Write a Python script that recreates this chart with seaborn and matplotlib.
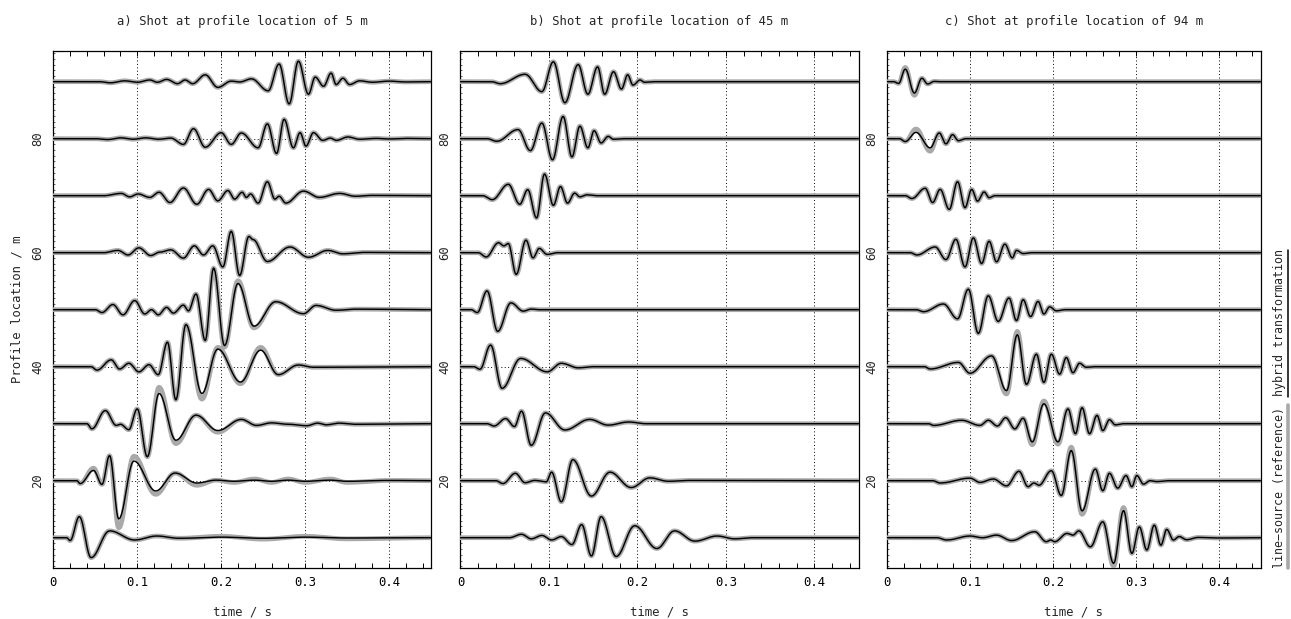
import numpy as np
import matplotlib
matplotlib.use("Agg")
import matplotlib.pyplot as plt
import seaborn as sns
from matplotlib.ticker import MultipleLocator, FixedLocator, FixedFormatter
from matplotlib.lines import Line2D

# ---------------- data ----------------
# each trace: list of (time [s], amplitude [m-units]) extrema of the hybrid-transformation trace
TRACE_OFFSETS = [10, 20, 30, 40, 50, 60, 70, 80, 90]
TITLES = ["a) Shot at profile location of 5 m",
          "b) Shot at profile location of 45 m",
          "c) Shot at profile location of 94 m"]
XTICKS = [0, 0.1, 0.2, 0.3, 0.4]
XTICKLABELS = ["0", "0.1", "0.2", "0.3", "0.4"]
YTICKS = [20, 40, 60, 80]
YTICKLABELS = ["20", "40", "60", "80"]

# ---- panel a ----
a90 = [(0, 0), (0.055, 0), (0.068, -0.2), (0.085, 0.15), (0.1, -0.1), (0.115, 0.3), (0.124, -0.1),
       (0.135, 0.4), (0.148, -0.35), (0.157, 0.3), (0.166, -0.35), (0.181, 1.2), (0.196, -1.0),
       (0.212, 0.1), (0.222, -0.05), (0.236, 0.5), (0.256, -1.6), (0.269, 3.1), (0.281, -3.9),
       (0.292, 3.6), (0.304, -2.2), (0.312, 0.8), (0.322, -0.8), (0.331, 1.5), (0.337, -0.5),
       (0.345, 0.6), (0.353, -0.5), (0.365, 0.15), (0.38, -0.1), (0.40, 0.1), (0.42, -0.05), (0.45, 0)]
a80 = [(0, 0), (0.05, 0), (0.065, -0.15), (0.08, 0.15), (0.095, -0.1), (0.11, 0.15), (0.125, -0.1),
       (0.14, 0.1), (0.155, -1.0), (0.167, 1.75), (0.181, -1.5), (0.200, 1.05), (0.212, -1.0),
       (0.224, 1.0), (0.244, -1.6), (0.255, 2.6), (0.266, -2.6), (0.275, 3.4), (0.286, -1.6),
       (0.294, 1.05), (0.301, -1.3), (0.310, 1.05), (0.321, -0.3), (0.33, 0.1), (0.337, -0.3),
       (0.351, 0.3), (0.365, -0.1), (0.385, 0.05), (0.40, -0.05), (0.42, 0.05), (0.45, 0)]
a70 = [(0, 0), (0.06, 0), (0.081, 0.4), (0.091, -0.2), (0.101, 0.3), (0.115, -0.3), (0.126, 0.6),
       (0.139, -1.2), (0.155, 1.35), (0.171, -1.5), (0.185, 1.1), (0.196, -0.9), (0.208, 0.9),
       (0.216, -0.6), (0.225, 0.6), (0.230, -0.3), (0.235, 0.3), (0.244, -1.3), (0.255, 2.45),
       (0.264, -0.6), (0.269, -0.1), (0.277, -1.3), (0.298, 0.8), (0.317, -0.3), (0.341, 0.4),
       (0.36, -0.1), (0.38, 0.05), (0.45, 0)]
a60 = [(0, 0), (0.06, 0), (0.077, 0.4), (0.089, -0.4), (0.102, 0.85), (0.116, -0.5), (0.127, 0.1),
       (0.140, 0.5), (0.155, -0.95), (0.168, 1.2), (0.179, -0.4), (0.190, 1.2), (0.202, -2.5),
       (0.212, 3.75), (0.222, -4.0), (0.233, 2.85), (0.238, 2.3), (0.255, -1.55), (0.282, 1.0),
       (0.304, -0.8), (0.327, 0.4), (0.345, -0.2), (0.37, 0.05), (0.45, 0)]
a50 = [(0, 0), (0.05, 0), (0.058, -0.5), (0.071, 0.9), (0.083, -0.9), (0.097, 1.6), (0.109, -0.75),
       (0.117, 0.0), (0.125, -0.9), (0.135, 0.4), (0.143, -0.6), (0.155, 0.8), (0.161, -0.2),
       (0.170, 2.75), (0.181, -5.4), (0.191, 7.3), (0.204, -6.3), (0.220, 4.6), (0.239, -2.9),
       (0.265, 1.4), (0.298, -0.7), (0.313, 0.75), (0.337, -0.1), (0.36, 0.1), (0.45, 0)]
a40 = [(0, 0), (0.045, 0), (0.052, -0.6), (0.069, 1.2), (0.079, -0.4), (0.090, 0.6), (0.102, -0.9),
       (0.114, 0.35), (0.125, -1.4), (0.136, 4.3), (0.146, -5.8), (0.158, 7.4), (0.177, -4.7),
       (0.196, 3.1), (0.223, -2.7), (0.247, 2.9), (0.268, -1.4), (0.292, 0.3), (0.31, -0.1), (0.45, 0)]
a30 = [(0, 0), (0.04, 0), (0.046, -0.9), (0.062, 2.3), (0.075, -0.3), (0.080, -0.1), (0.090, -1.05),
       (0.100, 2.6), (0.112, -5.8), (0.126, 5.3), (0.146, -2.9), (0.170, 1.5), (0.196, -1.2),
       (0.224, 0.75), (0.242, -0.3), (0.26, 0.15), (0.28, -0.1), (0.302, -0.35), (0.315, 0.1),
       (0.325, -0.2), (0.34, 0.1), (0.36, -0.1), (0.45, 0)]
a20 = [(0, 0), (0.028, 0), (0.032, -0.5), (0.048, 1.8), (0.058, -0.65), (0.067, 4.4), (0.078, -6.7),
       (0.096, 3.45), (0.122, -1.8), (0.145, 1.35), (0.171, -0.4), (0.194, 0.1), (0.215, -0.1),
       (0.24, 0.1), (0.26, -0.1), (0.28, 0.1), (0.30, -0.1), (0.33, 0.1), (0.35, -0.1), (0.40, 0.05),
       (0.45, 0)]
a10 = [(0, 0), (0.016, 0), (0.020, -0.5), (0.031, 3.7), (0.045, -3.5), (0.067, 1.2), (0.097, -0.4),
       (0.123, 0.3), (0.15, -0.1), (0.2, 0.1), (0.25, -0.1), (0.3, 0.1), (0.35, -0.05), (0.45, 0)]

# ---- panel b ----
b90 = [(0, 0), (0.035, 0), (0.045, -0.35), (0.073, 1.3), (0.092, -1.75), (0.105, 3.5), (0.118, -3.7),
       (0.133, 3.0), (0.144, -2.2), (0.155, 2.6), (0.163, -2.2), (0.173, 1.75), (0.182, -1.3),
       (0.189, 1.2), (0.195, -0.6), (0.203, 0.3), (0.208, -0.1), (0.22, 0), (0.45, 0)]
b80 = [(0, 0), (0.03, 0), (0.041, -0.45), (0.065, 1.6), (0.079, -2.1), (0.092, 2.75), (0.104, -3.7),
       (0.116, 3.9), (0.126, -3.2), (0.135, 2.2), (0.144, -1.6), (0.151, 1.4), (0.159, -0.75),
       (0.167, 0.4), (0.173, -0.1), (0.185, 0), (0.45, 0)]
b70 = [(0, 0), (0.025, 0), (0.036, -0.7), (0.054, 2.0), (0.067, -1.5), (0.076, 1.05), (0.086, -3.9),
       (0.095, 3.8), (0.105, -1.7), (0.113, 1.6), (0.121, -1.3), (0.129, 0.45), (0.135, -0.2),
       (0.143, 0.15), (0.155, 0), (0.45, 0)]
b60 = [(0, 0), (0.02, 0), (0.029, -0.75), (0.043, 1.75), (0.049, 1.2), (0.054, 1.6), (0.063, -3.8),
       (0.074, 2.2), (0.082, -0.9), (0.089, 0.75), (0.098, -0.3), (0.11, 0), (0.45, 0)]
b50 = [(0, 0), (0.012, 0), (0.019, -0.5), (0.030, 3.3), (0.042, -3.8), (0.057, 1.2), (0.071, -0.25),
       (0.080, 0.1), (0.09, 0), (0.45, 0)]
b40 = [(0, 0), (0.015, 0), (0.022, -0.45), (0.034, 3.8), (0.047, -3.8), (0.068, 1.45), (0.098, -0.9),
       (0.114, 0.6), (0.133, -0.2), (0.15, 0), (0.45, 0)]
b30 = [(0, 0), (0.03, 0), (0.038, -0.4), (0.051, 0.9), (0.061, -0.5), (0.069, 2.2), (0.080, -3.8),
       (0.096, 1.9), (0.118, -1.1), (0.146, 0.75), (0.167, -0.25), (0.190, 0.3), (0.21, 0), (0.45, 0)]
b20 = [(0, 0), (0.04, 0), (0.048, -0.5), (0.062, 1.3), (0.073, -0.35), (0.084, 0.05), (0.097, -0.2),
       (0.103, 1.5), (0.114, -3.7), (0.127, 3.7), (0.148, -2.7), (0.169, 1.5), (0.193, -1.2),
       (0.214, 0.5), (0.235, -0.1), (0.26, 0.05), (0.45, 0)]
b10 = [(0, 0), (0.055, 0), (0.069, 0.6), (0.080, -0.2), (0.092, 0.4), (0.103, -0.4), (0.114, 0.2),
       (0.126, -1.2), (0.137, 2.3), (0.148, -3.2), (0.159, 3.7), (0.176, -3.3), (0.197, 2.1),
       (0.222, -1.9), (0.242, 1.2), (0.265, -0.6), (0.290, 0.3), (0.310, -0.2), (0.33, 0), (0.45, 0)]

# ---- panel c ----
c90 = [(0, 0), (0.008, 0), (0.014, -0.3), (0.022, 2.2), (0.033, -2.0), (0.042, 0.6), (0.049, -0.4),
       (0.057, 0.05), (0.065, 0), (0.45, 0)]
c80 = [(0, 0), (0.015, 0), (0.022, -0.5), (0.035, 1.1), (0.052, -1.6), (0.063, 1.0), (0.071, -0.9),
       (0.079, 0.7), (0.086, -0.35), (0.095, 0), (0.45, 0)]
c70 = [(0, 0), (0.022, 0), (0.030, -0.5), (0.046, 1.3), (0.055, -1.2), (0.064, 1.1), (0.075, -2.4),
       (0.085, 2.45), (0.094, -2.1), (0.102, 1.1), (0.109, -0.95), (0.117, 0.65), (0.123, -0.35),
       (0.13, 0), (0.45, 0)]
c60 = [(0, 0), (0.028, 0), (0.036, -0.4), (0.058, 1.0), (0.071, -1.2), (0.083, 2.35), (0.094, -2.5),
       (0.104, 2.6), (0.114, -1.9), (0.123, 2.0), (0.132, -1.6), (0.142, 1.5), (0.151, -0.9),
       (0.156, 0.4), (0.164, -0.15), (0.175, 0), (0.45, 0)]
c50 = [(0, 0), (0.035, 0), (0.044, -0.35), (0.068, 1.0), (0.085, -1.6), (0.098, 3.6), (0.110, -4.15),
       (0.122, 2.45), (0.134, -2.05), (0.147, 2.05), (0.156, -1.9), (0.164, 1.75), (0.173, -1.2),
       (0.182, 1.45), (0.189, -0.75), (0.196, 0.5), (0.204, -0.2), (0.215, 0), (0.45, 0)]
c40 = [(0, 0), (0.045, 0), (0.052, -0.4), (0.086, 0.75), (0.100, -1.15), (0.126, 1.9), (0.144, -4.2),
       (0.157, 5.6), (0.168, -3.1), (0.180, 2.2), (0.189, -2.75), (0.198, 2.2), (0.208, -1.3),
       (0.216, 1.6), (0.224, -1.05), (0.232, 0.6), (0.240, -0.1), (0.25, 0), (0.45, 0)]
c30 = [(0, 0), (0.05, 0), (0.056, -0.3), (0.090, 0.6), (0.112, -0.3), (0.122, 0.6), (0.133, -0.4),
       (0.143, 1.05), (0.154, -0.9), (0.164, 0.95), (0.175, -3.2), (0.189, 3.5), (0.206, -3.2),
       (0.218, 2.6), (0.227, -1.75), (0.235, 2.8), (0.244, -1.75), (0.253, 1.45), (0.260, -1.2),
       (0.268, 0.7), (0.275, -0.2), (0.285, 0), (0.45, 0)]
c20 = [(0, 0), (0.055, 0), (0.064, -0.4), (0.100, 0.45), (0.112, -0.3), (0.128, 0.3), (0.144, -0.9),
       (0.159, 1.65), (0.170, -1.05), (0.177, -0.4), (0.183, -0.8), (0.198, 1.75), (0.210, -2.6),
       (0.222, 5.3), (0.235, -5.3), (0.251, 2.05), (0.260, -1.75), (0.268, 1.3), (0.278, -1.3),
       (0.288, 0.9), (0.295, -1.05), (0.301, 0.9), (0.309, -0.6), (0.317, 0.0), (0.325, -0.15),
       (0.34, 0), (0.45, 0)]
c10 = [(0, 0), (0.06, 0), (0.072, -0.4), (0.100, 0.3), (0.115, 0.0), (0.132, 0.45), (0.150, -0.5),
       (0.178, 1.05), (0.192, -0.7), (0.197, -0.4), (0.202, -0.7), (0.217, 0.75), (0.224, 0.45),
       (0.231, 1.2), (0.245, -1.6), (0.260, 2.8), (0.273, -4.5), (0.285, 4.75), (0.295, -2.75),
       (0.304, 1.9), (0.313, -2.15), (0.322, 2.2), (0.330, -1.3), (0.337, 1.45), (0.345, -0.4),
       (0.352, 0.2), (0.361, -0.35), (0.375, 0.05), (0.40, -0.05), (0.45, 0)]

# line-source (reference) amplitudes where they differ from the hybrid trace
a50_ref = [(0.204, -6.6), (0.220, 5.1), (0.239, -3.2)]
a40_ref = [(0.177, -5.7), (0.196, 3.4), (0.223, -3.0), (0.247, 3.4)]
a30_ref = [(0.126, 6.4), (0.146, -3.5), (0.196, -1.5)]
a20_ref = [(0.048, 2.2), (0.078, -8.3), (0.096, 4.3), (0.122, -2.4), (0.171, -0.8), (0.215, -0.3),
           (0.24, 0.3), (0.26, -0.3), (0.28, 0.3), (0.30, -0.3), (0.33, 0.3), (0.35, -0.3)]
a10_ref = [(0.2, 0.25), (0.25, -0.25), (0.3, 0.25), (0.35, -0.2)]
c90_ref = [(0.022, 2.5), (0.033, -2.4)]
c80_ref = [(0.035, 1.7), (0.052, -2.2)]
c40_ref = [(0.144, -4.8), (0.157, 6.2)]
c30_ref = [(0.175, -3.7), (0.189, 4.0), (0.206, -3.6)]
c20_ref = [(0.222, 5.9), (0.235, -5.9)]
c10_ref = [(0.273, -5.0), (0.285, 5.3)]

PANELS = [
    (dict(zip(TRACE_OFFSETS, [a10, a20, a30, a40, a50, a60, a70, a80, a90])),
     {10: a10_ref, 20: a20_ref, 30: a30_ref, 40: a40_ref, 50: a50_ref}),
    (dict(zip(TRACE_OFFSETS, [b10, b20, b30, b40, b50, b60, b70, b80, b90])), {}),
    (dict(zip(TRACE_OFFSETS, [c10, c20, c30, c40, c50, c60, c70, c80, c90])),
     {10: c10_ref, 20: c20_ref, 30: c30_ref, 40: c40_ref, 80: c80_ref, 90: c90_ref}),
]

# ---------------- layout / style ----------------
W, H = 1291, 619
AX_RECTS = [  # left, right in pixels
    (53.3, 431.0),
    (460.5, 858.5),
    (887.0, 1260.5),
]
AX_TOP, AX_BOT = 50.5, 567.7
GREY = "#a9a9a9"
FS = 8.8
FS_NOTE = 8.4


def smooth(pairs, n=14):
    t = np.array([p[0] for p in pairs], float)
    v = np.array([p[1] for p in pairs], float)
    xs, ys = [], []
    s = np.linspace(0, 1, n, endpoint=False)
    w = (1 - np.cos(np.pi * s)) / 2
    for i in range(len(t) - 1):
        xs.append(t[i] + (t[i + 1] - t[i]) * s)
        ys.append(v[i] + (v[i + 1] - v[i]) * w)
    xs.append([t[-1]])
    ys.append([v[-1]])
    return np.concatenate(xs), np.concatenate(ys)


def with_ref(pairs, ref):
    d = dict(ref)
    return [(t, d.get(t, v)) for t, v in pairs]


sns.set_style("white")
plt.rcParams["font.family"] = ["DejaVu Sans Mono", "DejaVu Sans"]
plt.rcParams["font.size"] = FS

fig = plt.figure(figsize=(W / 100, H / 100), dpi=100)

dotted = (0, (1, 2.5))
for k, ((traces, refs), (xl, xr)) in enumerate(zip(PANELS, AX_RECTS)):
    ax = fig.add_axes([xl / W, 1 - AX_BOT / H, (xr - xl) / W, (AX_BOT - AX_TOP) / H])
    for off in TRACE_OFFSETS:
        pairs = traces[off]
        gx, gy = smooth(with_ref(pairs, refs.get(off, [])))
        sns.lineplot(x=gx, y=gy + off, ax=ax, color=GREY, lw=3.4, estimator=None,
                     sort=False, legend=False, zorder=3)
        bx, by = smooth(pairs)
        sns.lineplot(x=bx, y=by + off, ax=ax, color="black", lw=1.05, estimator=None,
                     sort=False, legend=False, zorder=4)
    ax.set_xlim(0, 0.45)
    ax.set_ylim(4.74, 95.47)
    ax.xaxis.set_major_locator(FixedLocator(XTICKS))
    ax.xaxis.set_major_formatter(FixedFormatter(XTICKLABELS))
    ax.xaxis.set_minor_locator(MultipleLocator(0.02))
    ax.yaxis.set_major_locator(FixedLocator(YTICKS))
    ax.yaxis.set_major_formatter(FixedFormatter(YTICKLABELS))
    ax.yaxis.set_minor_locator(MultipleLocator(1))
    ax.grid(True, which="major", color="black", lw=0.7, ls=dotted, zorder=1)
    ax.set_axisbelow(True)
    ax.tick_params(axis="x", which="both", direction="in", top=True, bottom=True,
                   length=3.6, width=0.7, pad=6.3, labelsize=FS, colors="black")
    ax.tick_params(axis="y", which="major", direction="in", left=True, right=False,
                   length=3.2, width=0.7, pad=6.5, labelsize=FS)
    ax.tick_params(axis="y", which="minor", direction="in", left=True, right=False,
                   length=1.4, width=0.5)
    for lab in ax.get_yticklabels():
        lab.set_rotation(90)
        lab.set_va("center")
        lab.set_ha("right")
    for sp in ax.spines.values():
        sp.set_visible(True)
        sp.set_color("black")
        sp.set_linewidth(0.9)
    ax.set_xlabel("time / s", fontsize=FS, labelpad=11.5)
    if k == 0:
        ax.set_ylabel("Profile location / m", fontsize=FS, labelpad=5.5)
    fig.text((xl + xr) / 2 / W, 1 - 21 / H, TITLES[k], ha="center", va="center", fontsize=FS)

# legend-like annotation on the right
fig.text(1279 / W, 1 - 322 / H, "hybrid transformation", rotation=90, ha="center",
         va="center", fontsize=FS_NOTE)
fig.text(1279 / W, 1 - 487.5 / H, "line\u2212source (reference)", rotation=90, ha="center",
         va="center", fontsize=FS_NOTE)
fig.add_artist(Line2D([1287.5 / W, 1287.5 / W], [1 - 250 / H, 1 - 397 / H], color="black", lw=1.1,
                      transform=fig.transFigure))
fig.add_artist(Line2D([1287.5 / W, 1287.5 / W], [1 - 405 / H, 1 - 568 / H], color=GREY, lw=2.6,
                      transform=fig.transFigure))

fig.savefig("out.png", dpi=100)
